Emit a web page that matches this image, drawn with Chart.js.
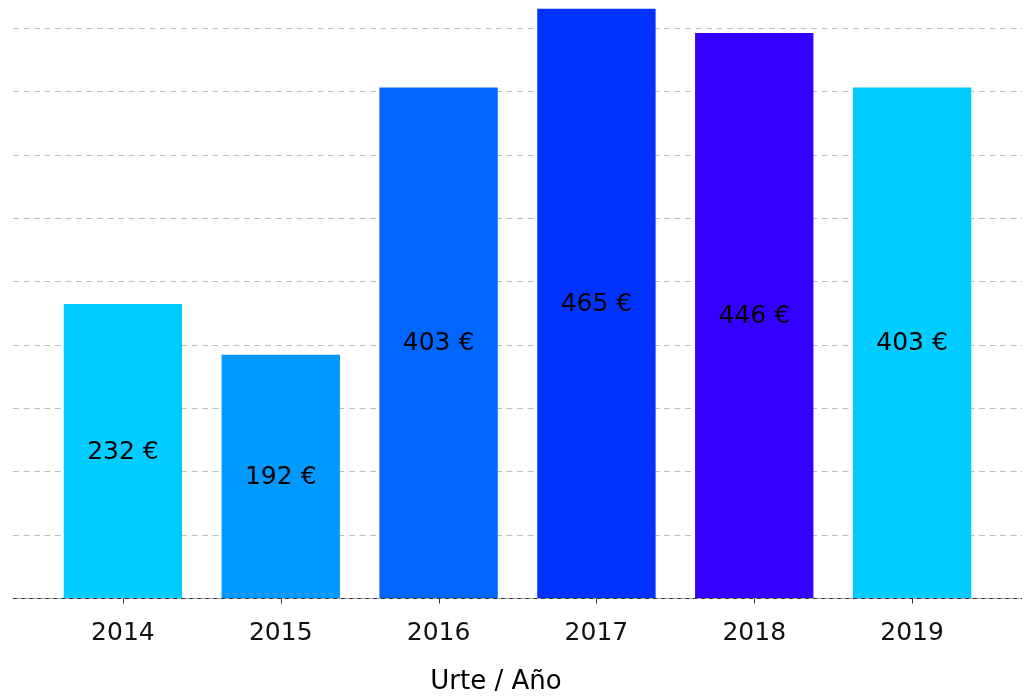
<!DOCTYPE html>
<html>
<head>
<meta charset="utf-8">
<script src="https://cdn.jsdelivr.net/npm/chart.js@4/dist/chart.umd.min.js"></script>
<style>
  html, body { margin: 0; padding: 0; background: #fff; }
  #wrap { width: 1031px; height: 696px; position: relative; }
</style>
</head>
<body>
<div id="wrap"><canvas id="c"></canvas></div>
<script>
// Yearly amount per year (EUR), one colour per bar.
const years = ["2014", "2015", "2016", "2017", "2018", "2019"];
const amounts = [232, 192, 403, 465, 446, 403];
const barColors = ["#00CCFF", "#0099FF", "#0066FF", "#0033FF", "#3300FF", "#00CCFF"];
const gridValues = [50, 100, 150, 200, 250, 300, 350, 400, 450];
const axisTitle = "Urte / Año";

const FONT = "'DejaVu Sans', Verdana, sans-serif";

// Dashed horizontal grid + dashed baseline + tick marks, drawn wider than
// the bar area (the grid runs edge to edge in the reference).
const decor = {
  id: "decor",
  beforeDatasetsDraw(chart) {
    const { ctx, scales: { y } } = chart;
    const L = 13, R = 1022;
    ctx.save();
    ctx.lineWidth = 1;
    ctx.strokeStyle = "#bdbdbd";
    ctx.setLineDash([6, 4.5]);
    gridValues.forEach(v => {
      const py = Math.round(y.getPixelForValue(v)) + 0.5;
      ctx.beginPath(); ctx.moveTo(L, py); ctx.lineTo(R, py); ctx.stroke();
    });
    ctx.restore();
  },
  afterDatasetsDraw(chart) {
    const { ctx, scales: { x, y } } = chart;
    const L = 13, R = 1022;
    const py = Math.round(y.getPixelForValue(0)) + 0.5;
    ctx.save();
    ctx.lineWidth = 1;
    ctx.strokeStyle = "#aaaaaa";
    ctx.beginPath(); ctx.moveTo(L, py); ctx.lineTo(R, py); ctx.stroke();
    ctx.strokeStyle = "#333";
    ctx.setLineDash([4, 4]);
    ctx.beginPath(); ctx.moveTo(L, py); ctx.lineTo(R, py); ctx.stroke();
    ctx.setLineDash([]);
    years.forEach((_, i) => {
      const px = Math.round(x.getPixelForValue(i)) + 0.5;
      ctx.beginPath(); ctx.moveTo(px, py); ctx.lineTo(px, py + 5); ctx.stroke();
    });
    // value labels in the middle of each bar
    ctx.fillStyle = "#000";
    ctx.font = `25px ${FONT}`;
    ctx.textAlign = "center";
    ctx.textBaseline = "middle";
    chart.getDatasetMeta(0).data.forEach((bar, i) => {
      const mid = (bar.y + bar.base) / 2;
      ctx.fillText(`${amounts[i]} €`, bar.x, mid + 1);
    });
    // axis title
    ctx.font = `26px ${FONT}`;
    ctx.fillText(axisTitle, 496, 682);
    ctx.restore();
  },
};

new Chart(document.getElementById("c"), {
  type: "bar",
  data: {
    labels: years,
    datasets: [{
      data: amounts,
      backgroundColor: barColors,
      borderWidth: 0,
      barPercentage: 0.75,
      categoryPercentage: 1,
    }],
  },
  options: {
    responsive: true,
    maintainAspectRatio: false,
    animation: false,
    layout: { padding: { left: 44, right: 40, top: 0, bottom: 28 } },
    plugins: { legend: { display: false }, tooltip: { enabled: false } },
    scales: {
      x: {
        grid: { display: false, drawTicks: false },
        border: { display: false },
        ticks: { color: "#111", padding: 20, font: { family: FONT, size: 25 } },
      },
      y: {
        display: false,
        min: 0,
        max: 472,
      },
    },
  },
  plugins: [decor],
});
</script>
</body>
</html>
